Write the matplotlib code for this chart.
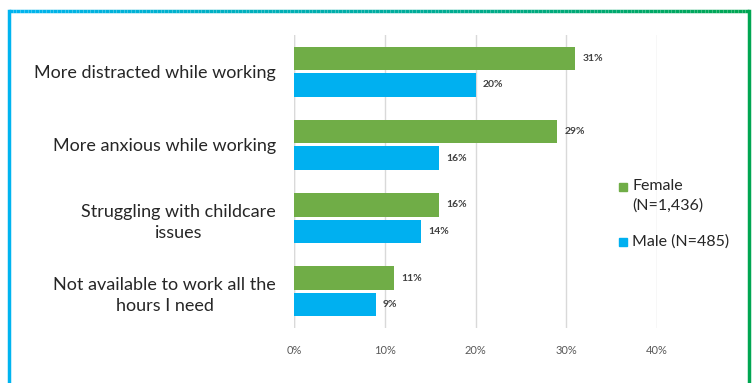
import matplotlib
matplotlib.use("Agg")
import matplotlib.pyplot as plt
import numpy as np
from matplotlib.collections import LineCollection
from matplotlib.patches import Rectangle
from matplotlib.colors import to_rgb

categories = ["More distracted while working",
              "More anxious while working",
              "Struggling with childcare\nissues",
              "Not available to work all the\nhours I need"]
female = [31, 29, 16, 11]
male = [20, 16, 14, 9]
series_labels = ["Female\n(N=1,436)", "Male (N=485)"]
xticks = [0, 10, 20, 30, 40]

GREEN = "#70AD47"
BLUE = "#00B0F0"
FONT = "Lato"

W, H = 756, 383
fig = plt.figure(figsize=(W / 100, H / 100), dpi=100)
fig.patch.set_facecolor("white")

ax = fig.add_axes([294 / W, 1 - 328 / H, (657 - 294) / W, (328 - 35) / H])
y = np.arange(len(categories))
bh = 0.32
off = 0.18
ax.barh(y - off, female, height=bh, color=GREEN, zorder=3)
ax.barh(y + off, male, height=bh, color=BLUE, zorder=3)

for yi, v in zip(y - off, female):
    ax.text(v + 0.8, yi, f"{v}%", va="center", ha="left", fontsize=7.5,
            fontweight="bold", color="#404040", family=FONT)
for yi, v in zip(y + off, male):
    ax.text(v + 0.8, yi, f"{v}%", va="center", ha="left", fontsize=7.5,
            fontweight="bold", color="#404040", family=FONT)

ax.set_xlim(0, 40)
ax.set_ylim(3.5, -0.5)
ax.set_xticks(xticks)
ax.set_xticklabels([f"{t}%" for t in xticks], fontsize=8, color="#595959", family=FONT)
ax.set_yticks(y)
ax.set_yticklabels(categories, fontsize=13, color="#262626", family=FONT,
                   multialignment="center", linespacing=1.4)
ax.tick_params(axis="both", length=0)
ax.tick_params(axis="y", pad=13)
ax.tick_params(axis="x", pad=12)
ax.grid(axis="x", color="#D9D9D9", linewidth=1, zorder=0)
for s in ax.spines.values():
    s.set_visible(False)
ax.axvline(0, color="#D9D9D9", linewidth=1, zorder=1)

# legend
def fx(px):
    return px / W

def fy(py):
    return 1 - py / H

sq = 8
fig.patches.append(Rectangle((fx(619), fy(191)), sq / W, sq / H, color=GREEN,
                             transform=fig.transFigure, figure=fig))
fig.text(fx(632), fy(179), series_labels[0], fontsize=11.5, color="#262626",
         family=FONT, va="top", ha="left", linespacing=1.45)
fig.patches.append(Rectangle((fx(619), fy(246)), sq / W, sq / H, color=BLUE,
                             transform=fig.transFigure, figure=fig))
fig.text(fx(632), fy(242), series_labels[1], fontsize=11.5, color="#262626",
         family=FONT, va="center", ha="left")

# gradient frame
c1 = np.array(to_rgb("#00B4F0"))
c2 = np.array(to_rgb("#00A651"))
n = 200
xs = np.linspace(9, 749, n + 1)
segs = [[(fx(xs[i]), fy(11)), (fx(xs[i + 1]), fy(11))] for i in range(n)]
cols = [tuple(c1 + (c2 - c1) * (i / n)) for i in range(n)]
fig.add_artist(LineCollection(segs, colors=cols, linewidths=2.5,
                              transform=fig.transFigure))
fig.add_artist(plt.Line2D([fx(9), fx(9)], [fy(11), fy(390)], color=tuple(c1),
                          linewidth=2.5, transform=fig.transFigure))
fig.add_artist(plt.Line2D([fx(749), fx(749)], [fy(11), fy(390)], color=tuple(c2),
                          linewidth=2.5, transform=fig.transFigure))

fig.savefig("out.png", dpi=100)
